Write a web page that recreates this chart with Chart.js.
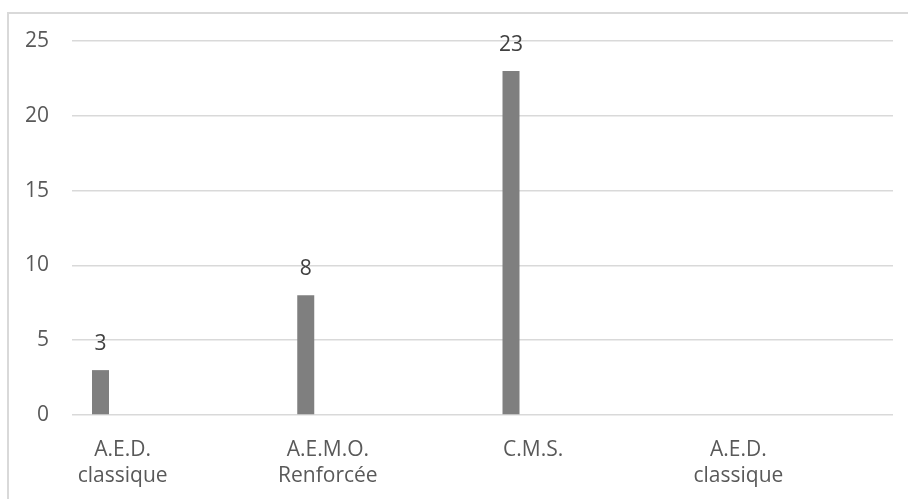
<!DOCTYPE html>
<html>
<head>
<meta charset="utf-8">
<script src="https://cdn.jsdelivr.net/npm/chart.js@4/dist/chart.umd.min.js"></script>
<style>
  html, body { margin: 0; padding: 0; background: #fff; overflow: hidden; }
  #frame {
    position: absolute; left: 7px; top: 12px; width: 960px; height: 560px;
    border-left: 2px solid #d9d9d9; border-top: 2px solid #d9d9d9;
  }
  #wrap { position: absolute; left: 0; top: 0; width: 908px; height: 499px; }
</style>
</head>
<body>
<div id="frame"></div>
<div id="wrap"><canvas id="chart"></canvas></div>
<script>
// Categories (two-line labels) and counts per category
const categories = [
  ['A.E.D.', 'classique'],
  ['A.E.M.O.', 'Renforcée'],
  ['C.M.S.'],
  ['A.E.D.', 'classique']
];
const counts = [3, 8, 23, null];
// Further series of the workbook, left without values
const emptySeries = [null, null, null, null];
const yTicks = [0, 5, 10, 15, 20, 25];

const FONT = 'Open Sans';

// Writes each bar's value above it
const valueLabels = {
  id: 'valueLabels',
  afterDatasetsDraw(chart) {
    const ctx = chart.ctx;
    const meta = chart.getDatasetMeta(0);
    ctx.save();
    ctx.font = '21px "' + FONT + '"';
    ctx.fillStyle = '#404040';
    ctx.textAlign = 'center';
    ctx.textBaseline = 'middle';
    meta.data.forEach((bar, i) => {
      const v = counts[i];
      if (v === null || v === undefined) return;
      ctx.fillText(String(v), bar.x, bar.y - 26);
    });
    ctx.restore();
  }
};

const datasetOpts = {
  backgroundColor: '#7f7f7f',
  borderWidth: 0,
  categoryPercentage: 0.963,
  barPercentage: 0.344
};

new Chart(document.getElementById('chart'), {
  type: 'bar',
  data: {
    labels: categories,
    datasets: [
      Object.assign({ label: 'Série 1', data: counts }, datasetOpts),
      Object.assign({ label: 'Série 2', data: emptySeries }, datasetOpts),
      Object.assign({ label: 'Série 3', data: emptySeries }, datasetOpts),
      Object.assign({ label: 'Série 4', data: emptySeries }, datasetOpts)
    ]
  },
  options: {
    responsive: true,
    maintainAspectRatio: false,
    animation: false,
    layout: { padding: { left: 0, right: 15, top: 41, bottom: 0 } },
    plugins: { legend: { display: false }, tooltip: { enabled: false } },
    scales: {
      x: {
        grid: { display: false, drawTicks: false },
        border: { display: false },
        ticks: {
          color: '#595959',
          font: { family: FONT, size: 21, lineHeight: 1.25 },
          padding: 22,
          labelOffset: -52,
          maxRotation: 0,
          autoSkip: false
        },
        afterFit(scale) { scale.height = 84; }
      },
      y: {
        min: 0,
        max: 25,
        afterBuildTicks(scale) { scale.ticks = yTicks.map(v => ({ value: v })); },
        grid: { color: '#d9d9d9', lineWidth: 1.5, drawTicks: false },
        border: { display: false },
        ticks: {
          color: '#595959',
          font: { family: FONT, size: 21 },
          padding: 23
        },
        afterFit(scale) { scale.width = 72; }
      }
    }
  },
  plugins: [valueLabels]
});
</script>
</body>
</html>
